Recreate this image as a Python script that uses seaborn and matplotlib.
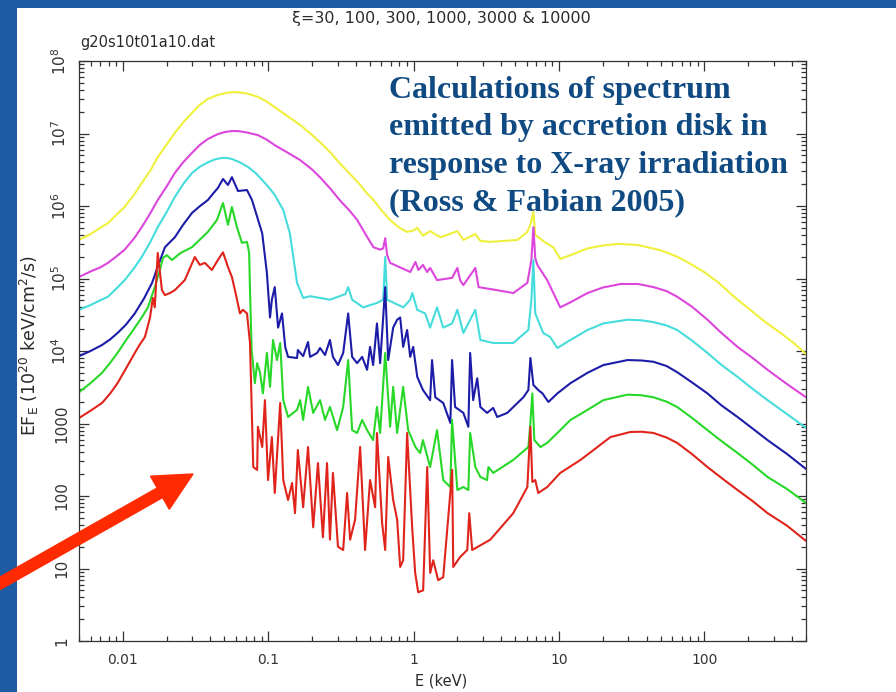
import numpy as np
import pandas as pd
import matplotlib
matplotlib.use("Agg")
import matplotlib.pyplot as plt
import seaborn as sns
from matplotlib.patches import Rectangle, FancyArrow
from matplotlib.transforms import IdentityTransform
from matplotlib.ticker import FixedLocator, FixedFormatter, LogLocator, NullFormatter

# ---------------- data (energy in keV, EF_E in 1e20 keV/cm^2/s) ----------------
yellow_E = [0.005, 0.006, 0.007, 0.0079, 0.009, 0.0103, 0.012, 0.0135, 0.0155, 0.0174,
            0.02, 0.0228, 0.026, 0.0299, 0.034, 0.0385, 0.045, 0.0505, 0.056, 0.062,
            0.072, 0.085, 0.098, 0.111, 0.135, 0.166, 0.2, 0.23, 0.27, 0.31, 0.37, 0.43,
            0.47, 0.53, 0.6, 0.69, 0.8, 0.90, 1.0, 1.06, 1.16, 1.30, 1.53, 2.0, 2.2, 2.66,
            2.88, 3.37, 5.17, 6.06, 6.36, 6.67, 6.87, 8.1, 9.15, 10.2, 12.0, 15.7, 20,
            25.3, 35, 50, 65, 80, 100, 125, 160, 200, 270, 335, 410, 500]
yellow_F = [3.4e5, 4.1e5, 5.0e5, 5.8e5, 7.5e5, 9.7e5, 1.45e6, 2.07e6, 3.1e6, 4.7e6,
            7.0e6, 1.02e7, 1.42e7, 1.92e7, 2.5e7, 3.0e7, 3.4e7, 3.6e7, 3.72e7, 3.7e7,
            3.55e7, 3.2e7, 2.75e7, 2.3e7, 1.75e7, 1.31e7, 9.6e6, 7.4e6, 5.4e6, 3.9e6, 2.7e6, 1.95e6,
            1.55e6, 1.21e6, 8.8e5, 6.4e5, 5.0e5, 4.4e5, 4.6e5, 5.0e5, 3.9e5, 4.5e5, 3.7e5, 4.5e5, 3.4e5, 4.1e5,
            3.3e5, 3.2e5, 3.4e5, 4.4e5, 5.5e5, 8.3e5, 4.0e5, 3.1e5, 2.7e5, 1.86e5, 2.1e5, 2.6e5, 2.85e5,
            3.0e5, 2.9e5, 2.45e5, 2.0e5, 1.6e5, 1.22e5, 8.8e4, 5.6e4, 3.9e4, 2.4e4, 1.77e4, 1.3e4, 9.1e3]

magenta_E = [0.005, 0.006, 0.007, 0.0079, 0.009, 0.0103, 0.012, 0.0135, 0.0155, 0.0174,
             0.02, 0.0228, 0.026, 0.0299, 0.034, 0.0385, 0.045, 0.0505, 0.056, 0.062,
             0.072, 0.085, 0.098, 0.111, 0.135, 0.166, 0.2, 0.23, 0.27, 0.31, 0.36, 0.41,
             0.47, 0.53, 0.59, 0.618, 0.638, 0.658, 0.69, 0.95, 1.03, 1.08, 1.16, 1.24, 1.30,
             1.45, 1.84, 2.0, 2.09, 2.2, 2.66, 2.8, 3.76, 4.85, 6.06, 6.46, 6.67, 6.87, 7.1,
             8.3, 9.15, 10.2, 12.0, 15.7, 20, 26.5, 35, 44.7, 55, 65, 82, 105, 130, 169, 215,
             272, 370, 500]
magenta_F = [1.05e5, 1.25e5, 1.42e5, 1.64e5, 2.0e5, 2.5e5, 3.6e5, 5.1e5, 8.0e5, 1.21e6,
             1.85e6, 2.85e6, 4.0e6, 5.4e6, 7.0e6, 8.4e6, 9.8e6, 1.05e7, 1.08e7, 1.08e7,
             1.03e7, 9.5e6, 8.2e6, 6.9e6, 5.5e6, 4.3e6, 3.2e6, 2.43e6, 1.7e6, 1.21e6, 8.8e5, 6.4e5,
             4.0e5, 2.7e5, 2.5e5, 2.6e5, 3.6e5, 2.1e5, 1.64e5, 1.23e5, 1.69e5, 1.31e5, 1.54e5, 1.23e5, 1.40e5,
             9.5e4, 1.02e5, 1.40e5, 9.5e4, 8.1e4, 1.40e5, 7.6e4, 6.9e4, 6.3e4, 8.7e4, 1.8e5, 5.1e5, 1.9e5, 1.54e5,
             9.5e4, 6.3e4, 4.0e4, 4.7e4, 6.3e4, 7.5e4, 8.4e4, 8.4e4, 7.6e4, 6.7e4, 5.6e4, 4.1e4, 2.7e4, 1.8e4, 1.14e4, 8.0e3,
             5.5e3, 3.5e3, 2.3e3]

cyan_E = [0.005, 0.006, 0.007, 0.0079, 0.009, 0.0103, 0.012, 0.0135, 0.0155, 0.0174,
          0.02, 0.0228, 0.026, 0.0299, 0.034, 0.0385, 0.043, 0.048, 0.052, 0.0563,
          0.064, 0.0727, 0.082, 0.091, 0.1, 0.111, 0.127, 0.141, 0.158, 0.174, 0.194, 0.266,
          0.34, 0.355, 0.378, 0.45, 0.56, 0.618, 0.638, 0.658, 0.85, 0.948, 0.98, 1.06, 1.2,
          1.30, 1.45, 1.6, 1.84, 2.0, 2.2, 2.45, 2.66, 2.88, 3.53, 4.85, 6.16, 6.46, 6.67,
          6.87, 7.8, 8.7, 9.75, 12.0, 15.7, 20.2, 29.6, 37, 44.7, 55, 65, 82, 105, 130, 169,
          215, 272, 370, 500]
cyan_F = [3.7e4, 4.3e4, 5.0e4, 5.6e4, 7.2e4, 9.5e4, 1.4e5, 1.98e5, 3.2e5, 5.1e5,
          8.2e5, 1.33e6, 2.0e6, 2.85e6, 3.5e6, 4.0e6, 4.4e6, 4.6e6, 4.6e6, 4.45e6,
          4.0e6, 3.45e6, 2.85e6, 2.28e6, 1.85e6, 1.42e6, 8.8e5, 4.2e5, 8.7e4, 5.4e4, 5.7e4, 5.1e4,
          6.1e4, 7.6e4, 5.1e4, 4.0e4, 4.6e4, 5.1e4, 1.98e5, 5.1e4, 4.0e4, 5.1e4, 6.3e4, 3.7e4, 3.3e4,
          2.1e4, 4.0e4, 2.1e4, 2.4e4, 3.7e4, 1.77e4, 2.7e4, 3.7e4, 1.42e4, 1.29e4, 1.29e4, 1.95e4, 5.1e4, 1.8e5,
          3.3e4, 1.77e4, 1.56e4, 1.1e4, 1.42e4, 1.95e4, 2.4e4, 2.7e4, 2.65e4, 2.5e4, 2.25e4, 1.95e4, 1.4e4, 9.4e3, 6.5e3, 4.4e3,
          3.0e3, 2.1e3, 1.35e3, 870]

blue_E = [0.005, 0.006, 0.0072, 0.0082, 0.0092, 0.0105, 0.0121, 0.014, 0.0159, 0.0175,
          0.0195, 0.0228, 0.026, 0.0299, 0.034, 0.0385, 0.042, 0.0451, 0.0489, 0.0529,
          0.0563, 0.062, 0.0715, 0.0774, 0.091, 0.098, 0.103, 0.106, 0.111, 0.117, 0.1245,
          0.131, 0.137, 0.158, 0.160, 0.174, 0.188, 0.194, 0.217, 0.2275, 0.246, 0.266,
          0.279, 0.302, 0.328, 0.355, 0.378, 0.409, 0.443, 0.479, 0.502, 0.527, 0.56, 0.589,
          0.638, 0.669, 0.724, 0.771, 0.809, 0.848, 0.903, 0.948, 0.994, 1.06, 1.16, 1.30,
          1.34, 1.41, 1.6, 1.79, 1.84, 1.93, 2.2, 2.38, 2.45, 2.57, 2.74, 2.88, 3.2, 3.53,
          3.76, 4.41, 5.69, 6.16, 6.36, 6.67, 7.2, 7.7, 8.46, 9.75, 12.0, 15.7, 20.2, 29.6,
          37, 44.7, 55, 65, 82, 105, 130, 169, 215, 272, 370, 500]
blue_F = [8.5e3, 1.0e4, 1.21e4, 1.45e4, 1.77e4, 2.3e4, 3.3e4, 5.3e4, 8.7e4, 1.5e5,
          2.7e5, 3.7e5, 5.5e5, 8.0e5, 1.0e6, 1.21e6, 1.5e6, 1.77e6, 2.36e6, 1.95e6,
          2.5e6, 1.61e6, 1.66e6, 1.21e6, 4.2e5, 1.19e5, 2.9e4, 5.1e4, 7.6e4, 2.1e4, 3.3e4,
          1.14e4, 8.3e3, 8.0e3, 1.03e4, 8.5e3, 1.33e4, 8.3e3, 9.4e3, 1.1e4, 8.8e3, 1.42e4,
          8.3e3, 6.4e3, 9.4e3, 3.3e4, 8.3e3, 6.8e3, 8.3e3, 5.5e3, 1.14e4, 6.4e3, 2.4e4, 6.8e3,
          7.6e4, 7.5e3, 2.1e4, 2.7e4, 2.9e4, 1.14e4, 1.95e4, 8.3e3, 1.14e4, 4.4e3, 2.9e3, 2.1e3,
          7.5e3, 2.3e3, 1.92e3, 1.02e3, 7.5e3, 1.69e3, 1.40e3, 900, 9.4e3, 2.1e3, 4.2e3, 1.69e3, 1.40e3, 1.64e3,
          1.23e3, 1.40e3, 2.3e3, 2.9e3, 8.0e3, 3.4e3, 2.9e3, 2.6e3, 1.98e3, 2.6e3, 3.6e3, 5.0e3, 6.4e3, 7.5e3,
          7.4e3, 7.1e3, 6.2e3, 5.1e3, 3.7e3, 2.6e3, 1.8e3, 1.23e3, 850, 590, 380, 236]

green_E = [0.005, 0.006, 0.0072, 0.0082, 0.0092, 0.0105, 0.0121, 0.0135, 0.0149, 0.0166,
           0.018, 0.0189, 0.0201, 0.0218, 0.025, 0.0299, 0.0385, 0.0444, 0.0489, 0.0529,
           0.0563, 0.061, 0.066, 0.0715, 0.074, 0.075, 0.077, 0.081, 0.084, 0.088, 0.092,
           0.098, 0.103, 0.108, 0.115, 0.121, 0.127, 0.137, 0.158, 0.166, 0.174, 0.188, 0.204,
           0.2275, 0.246, 0.266, 0.298, 0.328, 0.355, 0.378, 0.409, 0.443, 0.479, 0.527, 0.56,
           0.589, 0.638, 0.69, 0.724, 0.771, 0.848, 0.918, 1.03, 1.11, 1.16, 1.30, 1.45, 1.6,
           1.79, 1.84, 2.0, 2.2, 2.38, 2.45, 2.66, 2.88, 3.2, 3.27, 3.53, 4.85, 6.16, 6.36,
           6.56, 6.77, 7.45, 8.3, 9.75, 12.0, 15.7, 20.2, 29.6, 37, 44.7, 55, 65, 82, 105,
           130, 169, 215, 272, 370, 500]
green_F = [2.7e3, 3.6e3, 5.0e3, 6.9e3, 9.4e3, 1.4e4, 2.1e4, 2.9e4, 4.0e4, 7.6e4,
           1.31e5, 1.92e5, 2.1e5, 1.8e5, 2.25e5, 2.7e5, 4.4e5, 6.4e5, 1.1e6, 5.5e5,
           9.7e5, 5.1e5, 3.1e5, 3.2e5, 2.25e5, 6.9e4, 1.03e4, 3.6e3, 6.8e3, 5.0e3, 2.6e3,
           9.4e3, 3.2e3, 1.42e4, 7.5e3, 1.29e4, 2.1e3, 1.23e3, 1.54e3, 2.1e3, 1.12e3, 3.2e3, 1.40e3,
           2.1e3, 1.12e3, 1.69e3, 810, 1.69e3, 7.5e3, 810, 740, 1.12e3, 810, 590, 1.69e3,
           740, 9.4e3, 900, 3.2e3, 740, 3.2e3, 810, 474, 392, 590, 251, 810, 166,
           133, 1.12e3, 121, 133, 121, 740, 251, 183, 166, 251, 208, 314, 474, 1.02e3,
           2.6e3, 590, 474, 540, 740, 1.12e3, 1.54e3, 2.1e3, 2.5e3, 2.45e3, 2.3e3, 2.0e3, 1.69e3, 1.2e3, 810,
           580, 392, 270, 183, 125, 80]

red_E = [0.005, 0.006, 0.0072, 0.0082, 0.0092, 0.0105, 0.0121, 0.013, 0.0142, 0.0154,
         0.0161, 0.0166, 0.0174, 0.0186, 0.0195, 0.0211, 0.0228, 0.0267, 0.0313, 0.0339,
         0.0367, 0.041, 0.0451, 0.0489, 0.0529, 0.0563, 0.0591, 0.064, 0.067, 0.0715, 0.075,
         0.077, 0.079, 0.084, 0.085, 0.091, 0.095, 0.0998, 0.106, 0.111, 0.121, 0.127, 0.137,
         0.146, 0.153, 0.160, 0.174, 0.188, 0.204, 0.220, 0.238, 0.254, 0.266, 0.279, 0.302,
         0.328, 0.349, 0.366, 0.396, 0.429, 0.464, 0.502, 0.544, 0.56, 0.608, 0.638, 0.669,
         0.724, 0.771, 0.809, 0.848, 0.903, 0.978, 1.026, 1.076, 1.164, 1.241, 1.301, 1.365,
         1.477, 1.6, 1.844, 1.874, 2.09, 2.34, 2.415, 2.53, 3.37, 4.85, 6.06, 6.36, 6.56,
         6.87, 7.2, 8.3, 10.2, 14.05, 18.4, 22.6, 31, 37, 44.7, 55, 65, 82, 105, 130, 169,
         215, 272, 370, 500]
red_F = [1.19e3, 1.5e3, 1.92e3, 2.6e3, 3.6e3, 5.7e3, 9.4e3, 1.2e4, 1.56e4, 2.9e4,
         5.4e4, 4.0e4, 2.25e5, 6.9e4, 5.9e4, 6.3e4, 6.9e4, 9.5e4, 1.98e5, 1.54e5,
         1.64e5, 1.31e5, 1.8e5, 2.3e5, 1.44e5, 1.05e5, 6.9e4, 3.3e4, 3.7e4, 3.3e4, 1.29e4,
         1.69e3, 251, 229, 900, 474, 2.1e3, 166, 650, 110, 1.92e3, 166, 88,
         151, 58, 431, 70, 474, 37, 285, 27, 285, 25, 208, 20,
         18, 110, 25, 47, 474, 18, 166, 70, 740, 42, 18, 345,
         88, 47, 10.5, 13, 740, 37, 8.7, 4.7, 5.0, 251, 8.7, 13,
         6.9, 7.6, 229, 10.5, 14.4, 18, 58, 18, 25, 58, 133, 900, 156,
         166, 110, 133, 208, 314, 474, 650, 764, 770, 740, 640, 540, 380, 251, 180, 121,
         85, 58, 39, 24]

series_names = ["xi=10000", "xi=3000", "xi=1000", "xi=300", "xi=100", "xi=30"]
series_colors = ["#f0f03c", "#dc46dc", "#46dcdc", "#1c1ca8", "#28d828", "#e0241c"]

x_ticks = [0.01, 0.1, 1, 10, 100]
x_tick_labels = ["0.01", "0.1", "1", "10", "100"]
y_ticks = [1, 10, 100, 1000, 1e4, 1e5, 1e6, 1e7, 1e8]
y_tick_labels = ["1", "10", "100", "1000", "$10^4$", "$10^5$", "$10^6$", "$10^7$", "$10^8$"]

# ---------------- figure ----------------
sns.set_style("ticks")
plt.rcParams["font.family"] = ["DejaVu Sans"]

W, H = 896, 692
fig = plt.figure(figsize=(W / 100, H / 100), dpi=100, facecolor="#1d5ca3")
fig.add_artist(Rectangle((17 / W, 0), 1 - 17 / W, (H - 8) / H, transform=fig.transFigure,
                         facecolor="white", edgecolor="none", zorder=-1))

ax = fig.add_axes([79 / W, (H - 641) / H, (806 - 79) / W, (641 - 61) / H])
ax.set_facecolor("white")
ax.set_xscale("log")
ax.set_yscale("log")

all_E = [yellow_E, magenta_E, cyan_E, blue_E, green_E, red_E]
all_F = [yellow_F, magenta_F, cyan_F, blue_F, green_F, red_F]
frames = []
for name, e, f in zip(series_names, all_E, all_F):
    assert len(e) == len(f), name
    frames.append(pd.DataFrame({"E": e, "F": f, "series": name}))
df = pd.concat(frames, ignore_index=True)

sns.lineplot(data=df, x="E", y="F", hue="series", hue_order=series_names,
             palette=dict(zip(series_names, series_colors)), estimator=None, sort=False,
             legend=False, linewidth=1.5, ax=ax)

ax.set_xlim(0.005, 500)
ax.set_ylim(1, 1e8)
ax.set_xlabel("")
ax.set_ylabel("")

ax.xaxis.set_major_locator(FixedLocator(x_ticks))
ax.xaxis.set_major_formatter(FixedFormatter(x_tick_labels))
ax.yaxis.set_major_locator(FixedLocator(y_ticks))
ax.yaxis.set_major_formatter(FixedFormatter(y_tick_labels))
for a in (ax.xaxis, ax.yaxis):
    a.set_minor_locator(LogLocator(base=10, subs=(2, 3, 4, 5, 6, 7, 8, 9), numticks=30))
    a.set_minor_formatter(NullFormatter())

ax.tick_params(which="both", direction="in", top=True, right=True, color="#333333", width=0.9)
ax.tick_params(which="major", length=7, labelcolor="#333333")
ax.tick_params(which="minor", length=3.5)
ax.tick_params(axis="x", pad=9, labelsize=10)
ax.tick_params(axis="y", pad=7, labelrotation=90, labelsize=11)
for lbl in ax.get_yticklabels():
    lbl.set_va("center")
for s in ax.spines.values():
    s.set_color("#333333")
    s.set_linewidth(0.9)

# ---------------- texts ----------------
txt = "#2a2a2a"
fig.text(441 / W, 1 - 18 / H, "ξ=30, 100, 300, 1000, 3000 & 10000", ha="center", va="center",
         fontsize=11.5, color=txt)
fig.text(80 / W, 1 - 42 / H, "g20s10t01a10.dat", ha="left", va="center", fontsize=10.5, color=txt)
fig.text(441 / W, 1 - 681 / H, "E (keV)", ha="center", va="center", fontsize=10.5, color=txt)
fig.text(29 / W, 1 - 346 / H, r"EF$_{\rm E}$ (10$^{20}$ keV/cm$^2$/s)", rotation=90,
         ha="center", va="center", fontsize=12.5, color=txt)

note_lines = ["Calculations of spectrum", "emitted by accretion disk in",
              "response to X-ray irradiation", "(Ross & Fabian 2005)"]
for i, line in enumerate(note_lines):
    fig.text(389 / W, 1 - (98 + 37.5 * i) / H, line, ha="left", va="baseline",
             family="Liberation Serif", fontweight="bold", fontsize=23, color="#104a82", zorder=5)

# ---------------- red arrow (pixel coordinates) ----------------
arrow = FancyArrow(-10, H - 589, 203, 115, width=11, head_width=38, head_length=38,
                   length_includes_head=True, color="#ff2a00", transform=IdentityTransform(),
                   zorder=10)
fig.add_artist(arrow)

fig.savefig("out.png", dpi=100, facecolor=fig.get_facecolor())
